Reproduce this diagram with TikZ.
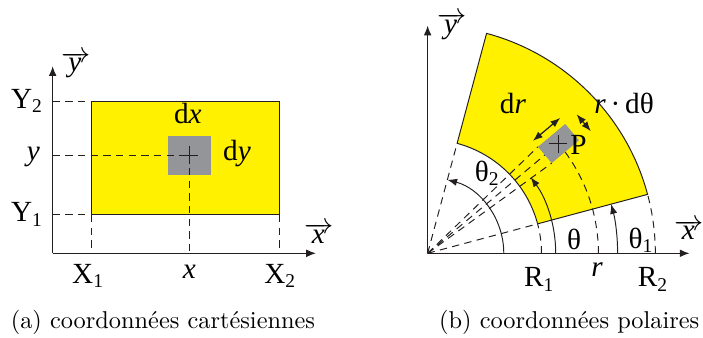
\documentclass[tikz,border=0pt]{standalone}
\usepackage{fontspec}
\usepackage{xcolor}
\usepackage{tikz}
\usetikzlibrary{arrows.meta}
\newfontfamily\lblfont{Liberation Serif}
\definecolor{CCYellow}{HTML}{FFF100}
\definecolor{CCGray}{HTML}{939598}
\definecolor{CCLine}{HTML}{231F20}
\newcommand{\vecarrow}[1]{$\overrightarrow{\rule{0pt}{4.9pt}\smash{\mbox{\itshape #1}}\kern1pt}$}

\begin{document}
\begin{tikzpicture}[x=1.027cm,y=1.027cm,
  lbl/.style={anchor=base,inner sep=0pt,font=\lblfont\fontsize{12}{14}\selectfont},
  axe/.style={CCLine,line width=0.5pt,-{Latex[length=4pt,width=3.2pt]}},
  guide/.style={CCLine,line width=0.4pt,dash pattern=on 3pt off 2.2pt},
  angarrow/.style={CCLine,line width=0.4pt,-{Latex[length=4pt,width=3pt]}},
  dimarrow/.style={CCLine,line width=0.5pt,{Latex[length=4pt,width=3pt]}-{Latex[length=4pt,width=3pt]}}]
\path[use as bounding box] (0,0) rectangle (9.88,4.75);
% (a) cartesian
\coordinate (Oa) at (0.74,1.19);
\coordinate (Xa) at (4.44,1.19);
\coordinate (Ya) at (0.74,3.82);
\coordinate (A1) at (1.28,1.73);
\coordinate (A2) at (3.93,3.32);
\coordinate (M) at (2.66,2.565);
\filldraw[fill=CCYellow,draw=CCLine,line width=0.4pt] (A1) rectangle (A2);
\fill[CCGray] (2.36,2.29) rectangle (2.97,2.84);
\draw[guide] (Oa|-A2) -- (A1|-A2);
\draw[guide] (Oa|-A1) -- (A1);
\draw[guide] (Oa|-M) -- (M);
\draw[guide] (A1) -- (A1|-Oa);
\draw[guide] (A2|-A1) -- (A2|-Oa);
\draw[guide] (M) -- (M|-Oa);
\draw[CCLine,line width=0.5pt] ([xshift=-0.13cm]M) -- ([xshift=0.13cm]M) ([yshift=-0.13cm]M) -- ([yshift=0.13cm]M);
\draw[axe] (Oa) -- (Xa);
\draw[axe] (Oa) -- (Ya);
\node[lbl] (Y2) at (0.38,3.23) {Y\textsubscript{2}};
\node[lbl] (ya) at (0.47,2.50) {\textit{y}};
\node[lbl] (Y1) at (0.38,1.635) {Y\textsubscript{1}};
\node[lbl] (X1) at (1.24,0.77) {X\textsubscript{1}};
\node[lbl] (xa) at (2.66,0.84) {\textit{x}};
\node[lbl] (X2) at (3.94,0.77) {X\textsubscript{2}};
\node[lbl] (dx) at (2.64,3.02) {d\textit{x}};
\node[lbl] (dy) at (3.33,2.50) {d\textit{y}};
\node[lbl] (yveca) at (1.07,3.74) {\vecarrow{y}};
\node[lbl] (xveca) at (4.49,1.33) {\vecarrow{x}};
\node[anchor=base] (capa) at (2.29,0.14) {(a) coordonnées cartésiennes};
% (b) polar
\begin{scope}[shift={(6.01,1.19)}]
\coordinate (Ob) at (0,0);
\coordinate (Xb) at (3.68,0);
\coordinate (Yb) at (0,3.20);
\coordinate (B1) at (15:1.6);
\coordinate (B2) at (75:1.6);
\coordinate (C1) at (15:3.2);
\filldraw[fill=CCYellow,draw=CCLine,line width=0.4pt] (B1) -- (C1) arc[start angle=15,end angle=75,radius=3.2] -- (B2) arc[start angle=75,end angle=15,radius=1.6] -- cycle;
\draw[guide] (Ob) -- (B1);
\draw[guide] (Ob) -- (B2);
\draw[guide] (1.6,0) arc[start angle=0,end angle=15,radius=1.6];
\draw[guide] (3.2,0) arc[start angle=0,end angle=15,radius=3.2];
\draw[guide] (2.4,0) arc[start angle=0,end angle=36.4,radius=2.4];
\begin{scope}[rotate=40]
\coordinate (P) at (2.4,0);
\coordinate (Q1) at (2.15,-0.15);
\coordinate (Q2) at (2.15,0.15);
\coordinate (D1) at (2.15,0.26);
\coordinate (D2) at (2.65,0.26);
\coordinate (T1) at (2.86,-0.16);
\coordinate (T2) at (2.86,0.15);
\draw[guide] (Ob) -- (Q1);
\draw[guide] (Ob) -- (P);
\draw[guide] (Ob) -- (Q2);
\fill[CCGray] (2.15,-0.15) rectangle (2.65,0.15);
\draw[dimarrow] (D1) -- (D2);
\draw[dimarrow] (T1) -- (T2);
\end{scope}
\draw[CCLine,line width=0.5pt] ([xshift=-0.13cm]P) -- ([xshift=0.13cm]P) ([yshift=-0.13cm]P) -- ([yshift=0.13cm]P);
\draw[angarrow] (1.07,0) arc[start angle=0,end angle=75,radius=1.07];
\draw[angarrow] (1.8,0) arc[start angle=0,end angle=36.4,radius=1.8];
\draw[angarrow] (2.67,0) arc[start angle=0,end angle=15,radius=2.67];
\draw[axe] (Ob) -- (Xb);
\draw[axe] (Ob) -- (Yb);
\end{scope}
\node[lbl,anchor=base west] (Pl) at (8.01,2.573) {P};
\node[lbl] (dr) at (7.21,3.16) {d\textit{r}};
\node[lbl] (rdt) at (8.77,3.16) {\textit{r}\,·\,dθ};
\node[lbl] (t2) at (6.85,2.20) {θ\textsubscript{2}};
\node[lbl] (t) at (8.07,1.24) {θ};
\node[lbl] (t1) at (9.01,1.26) {θ\textsubscript{1}};
\node[lbl] (R1) at (7.58,0.72) {R\textsubscript{1}};
\node[lbl] (rb) at (8.39,0.86) {\textit{r}};
\node[lbl] (R2) at (9.18,0.72) {R\textsubscript{2}};
\node[lbl] (yvecb) at (6.35,4.28) {\vecarrow{y}};
\node[lbl] (xvecb) at (9.69,1.38) {\vecarrow{x}};
\node[anchor=base] (capb) at (8.00,0.14) {(b) coordonnées polaires};
\end{tikzpicture}
\end{document}
